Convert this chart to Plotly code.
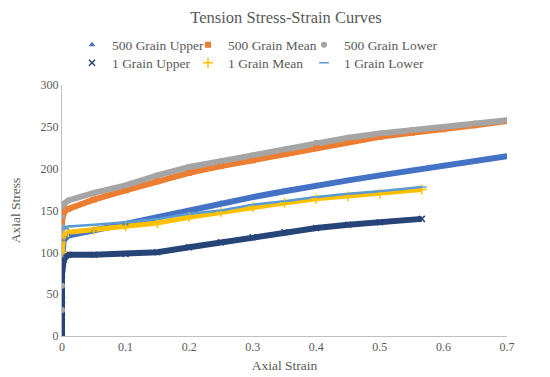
import plotly.graph_objects as go

# ---- data ----
strain_500 = [0.0, 0.0, 0.0, 0.003, 0.01, 0.05, 0.1, 0.15, 0.2, 0.25, 0.3, 0.35, 0.4, 0.45, 0.5, 0.55, 0.6, 0.65, 0.7]
upper_500 = [None, None, 95, 115, 120, 127, 134, 142, 150, 159, 166, 173, 180, 186, 192, 198, 204, 209, 215]
mean_500 = [None, None, 137, 148, 152, 163, 174, 185, 195, 203, 210, 218, 225, 232, 238, 243, 247, 252, 257]
lower_500 = [31, 60, 155, 158, 162, 171, 180, 192, 202, 209, 216, 223, 231, 237, 242, 246, 249, 254, 258]

strain_1 = [0.0, 0.0, 0.0, 0.0, 0.003, 0.01, 0.05, 0.1, 0.15, 0.2, 0.25, 0.3, 0.35, 0.4, 0.45, 0.5, 0.566]
upper_1 = [0, 22, 43, 74, 92, 97, 97, 98, 100, 106, 112, 118, 124, 129, 133, 136, 140]
mean_1 = [None, None, None, 100, 120, 124, 127, 131, 135, 142, 148, 154, 159, 164, 167, 170, 175]
lower_1 = [None, None, None, None, 128, 131, 133, 136, 140, 146, 150, 157, 161, 166, 170, 173, 178]

x_ticks = [0, 0.1, 0.2, 0.3, 0.4, 0.5, 0.6, 0.7]
x_tick_text = ["0", "0.1", "0.2", "0.3", "0.4", "0.5", "0.6", "0.7"]
y_ticks = [0, 50, 100, 150, 200, 250, 300]

FONT = "Liberation Serif"
GREY = "#595959"

# name, x, y, colour, symbol, marker size, band width, legend id, legend column, legend row
series = [
    ("500 Grain Upper", strain_500, upper_500, "#4472C4", "triangle-up", 6, 6, "legend", 0, 0),
    ("500 Grain Mean", strain_500, mean_500, "#ED7D31", "square", 6, 6, "legend2", 1, 0),
    ("500 Grain Lower", strain_500, lower_500, "#A5A5A5", "circle", 6, 6, "legend3", 2, 0),
    ("1 Grain Upper", strain_1, upper_1, "#264478", "x-thin", 6, 6, "legend4", 0, 1),
    ("1 Grain Mean", strain_1, mean_1, "#FFC000", "cross-thin", 7, 5, "legend5", 1, 1),
    ("1 Grain Lower", strain_1, lower_1, "#5B9BD5", "line-ew", 7, 2.5, "legend6", 2, 1),
]

fig = go.Figure()
for name, xs, ys, col, sym, msize, lw, leg, c, r in series:
    fig.add_trace(go.Scatter(
        x=xs, y=ys, mode="lines", line=dict(color=col, width=lw),
        showlegend=False, hoverinfo="skip", connectgaps=False))
for name, xs, ys, col, sym, msize, lw, leg, c, r in series:
    thin = sym in ("x-thin", "cross-thin", "line-ew")
    fig.add_trace(go.Scatter(
        x=xs, y=ys, mode="markers", name=name, legend=leg,
        marker=dict(symbol=sym, size=msize, color=col,
                    line=dict(color=col, width=1.5 if thin else 0))))

# page is offset by the 8px body margin; positions below are in page pixels minus OFF
OFF = 8
W, H = 550, 377
legends = {}
for name, xs, ys, col, sym, msize, lw, leg, c, r in series:
    legends[leg] = dict(
        orientation="h", xref="container", yref="container",
        xanchor="left", yanchor="middle",
        x=(72 - OFF + 116 * c) / W, y=1 - (45 - OFF + 18 * r) / H,
        font=dict(family=FONT, size=13.5, color=GREY),
        bgcolor="rgba(0,0,0,0)", itemwidth=30)

fig.update_layout(
    width=W, height=H,
    margin=dict(l=62 - OFF, r=W - (62 - OFF) - 445, t=85 - OFF, b=H - (85 - OFF) - 251, autoexpand=False),
    paper_bgcolor="white", plot_bgcolor="white",
    font=dict(family=FONT, color=GREY, size=12),
    title=dict(text="Tension Stress-Strain Curves", x=(286 - OFF) / W, xanchor="center",
               y=1 - (17 - OFF) / H, yanchor="middle", font=dict(family=FONT, size=16.5, color=GREY)),
    xaxis=dict(range=[0, 0.7], tickvals=x_ticks, ticktext=x_tick_text,
               showgrid=False, zeroline=False, showline=True, linecolor="#BFBFBF",
               linewidth=1, ticks="", tickfont=dict(family=FONT, size=12, color=GREY),
               title=dict(text="Axial Strain", font=dict(family=FONT, size=13.5, color=GREY), standoff=7)),
    yaxis=dict(range=[0, 300], tickvals=y_ticks, showgrid=False, zeroline=False,
               showline=True, linecolor="#BFBFBF", linewidth=1, ticks="",
               tickfont=dict(family=FONT, size=12, color=GREY),
               title=dict(text="Axial Stress", font=dict(family=FONT, size=13.5, color=GREY), standoff=22)),
    **legends,
)

fig.write_html("out.html")
